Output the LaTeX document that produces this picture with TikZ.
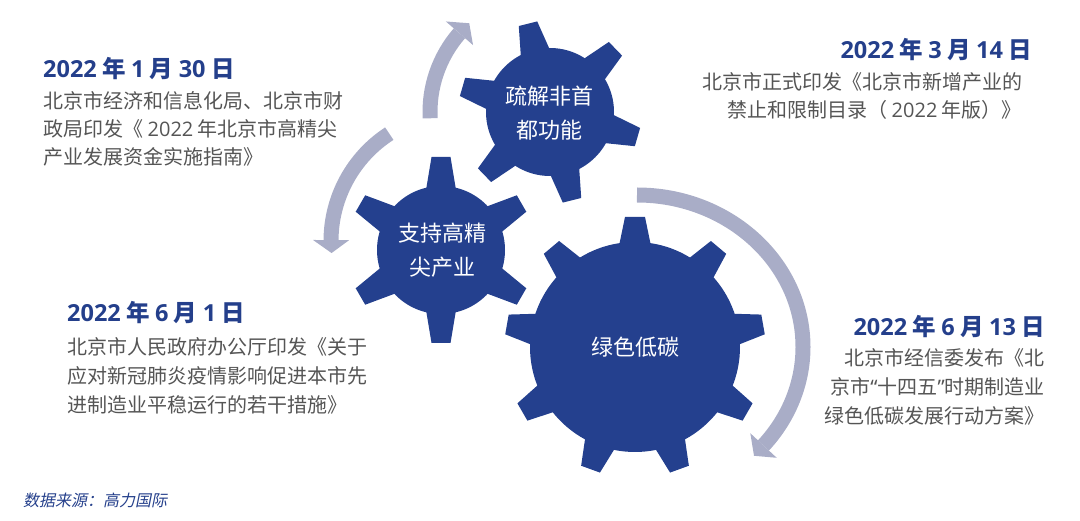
\documentclass[tikz,border=0pt]{standalone}
\usepackage{fontspec}
\setmainfont{Noto Sans CJK SC}
\newfontfamily\latinq{Noto Sans}
\newfontfamily\dg{Open Sans}
\newfontfamily\cjkit[FakeSlant=0.2]{Noto Sans CJK SC}
\definecolor{gearblue}{HTML}{24408E}
\definecolor{dateblue}{HTML}{243F8B}
\definecolor{arrowgray}{HTML}{A9ADC7}
\definecolor{bodygray}{HTML}{555555}
\tikzset{
  gearfill/.style={fill=gearblue},
  gtext/.style={text=white, font=\fontsize{22}{34}\selectfont, align=center, inner sep=0pt},
  datetext/.style={text=dateblue, font=\fontsize{23.5}{26}\selectfont\bfseries, inner sep=0pt},
  bodytext/.style={text=bodygray, font=\fontsize{20}{28}\selectfont, inner sep=0pt},
  srctext/.style={text=dateblue, font=\fontsize{16}{20}\selectfont\cjkit, inner sep=0pt},
  band/.style={draw=arrowgray, line width=15pt},
  head/.style={fill=arrowgray},
}
\newcommand{\drawgear}[8]{%
  \fill[gearfill] (#1,#2) circle[radius=#3];
  \foreach \k in {1,...,#5}{%
    \pgfmathsetmacro{\gang}{#6+360/#5*\k}%
    \fill[gearfill,shift={(#1,#2)},rotate=\gang] (#3-4,-#7) -- (#4,-#8) -- (#4,#8) -- (#3-4,#7) -- cycle;
  }%
}
\newcommand{\D}[1]{{\dg #1}}
\begin{document}
\begin{tikzpicture}[x=1pt,y=1pt]
\useasboundingbox (0,0) rectangle (1080,520);
% circular arrows
\draw[band,shift={(550,408)}] (183:120) arc[start angle=183,end angle=139,radius=120];
\fill[head,shift={(550,408)}] (139:102) -- (132.3:120) -- (139:138) -- cycle;
\draw[band,shift={(459,279)}] (123:128) arc[start angle=123,end angle=179.6,radius=128];
\fill[head,shift={(459,279)}] (179.6:110) -- (185.4:128) -- (179.6:146) -- cycle;
\draw[band,shift={(637,173)}] (90:166 and 152) arc[start angle=90,end angle=-40.4,x radius=166,y radius=152];
\fill[head] (776.7,62.2) -- (754.0,64.2) -- (750.3,86.8) -- cycle;
% gears
\drawgear{550}{408}{64}{91}{6}{44}{15}{9.5}
\drawgear{441}{270}{64}{93}{6}{30}{15}{9.5}
\drawgear{635}{173}{105}{130}{9}{10}{16}{10}
\node[gtext] (g1t) at (549,407) {疏解非首\\都功能};
\node[gtext] (g2t) at (442,270) {支持高精\\尖产业};
\node[gtext] (g3t) at (635,173) {绿色低碳};
% top left
\node[datetext,anchor=base west] (d1) at (43,442.5) {\D{2022} 年 \D{1} 月 \D{30} 日};
\node[bodytext,anchor=base west] (t1a) at (43,411.4) {北京市经济和信息化局、北京市财};
\node[bodytext,anchor=base west] (t1b) at (43,383.4) {政局印发《 \D{2022} 年北京市高精尖};
\node[bodytext,anchor=base west] (t1c) at (43,355.4) {产业发展资金实施指南》};
% top right
\node[datetext,anchor=base east] (d2) at (1032,461.5) {\D{2022} 年 \D{3} 月 \D{14} 日};
\node[bodytext,anchor=base west] (t2a) at (702,430.4) {北京市正式印发《北京市新增产业的};
\node[bodytext,anchor=base west] (t2b) at (727,402.4) {禁止和限制目录（ \D{2022} 年版）》};
% bottom left
\node[datetext,anchor=base west] (d3) at (67,198.5) {\D{2022} 年 \D{6} 月 \D{1} 日};
\node[bodytext,anchor=base west] (t3a) at (67,165.4) {北京市人民政府办公厅印发《关于};
\node[bodytext,anchor=base west] (t3b) at (67,136.4) {应对新冠肺炎疫情影响促进本市先};
\node[bodytext,anchor=base west] (t3c) at (67,107.4) {进制造业平稳运行的若干措施》};
% bottom right
\node[datetext,anchor=base east] (d4) at (1045,184.5) {\D{2022} 年 \D{6} 月 \D{13} 日};
\node[bodytext,anchor=base east] (t4a) at (1045,154.4) {北京市经信委发布《北};
\node[bodytext,anchor=base east] (t4b) at (1045,125.4) {京市{\latinq “}十四五{\latinq ”}时期制造业};
\node[bodytext,anchor=base east] (t4c) at (1045,96.4) {绿色低碳发展行动方案》};
% source
\node[srctext,anchor=base west] (src) at (23,14) {数据来源：高力国际};
\end{tikzpicture}
\end{document}
